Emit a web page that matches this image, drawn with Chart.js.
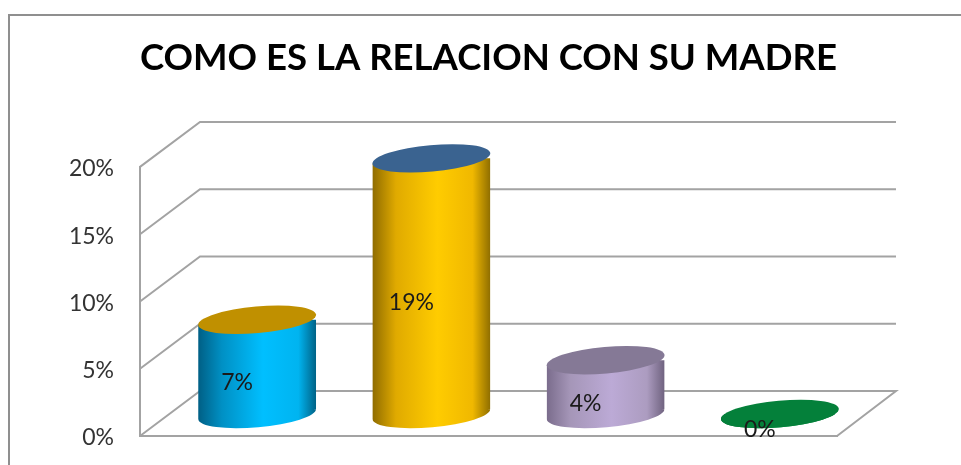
<!DOCTYPE html>
<html><head><meta charset="utf-8">
<style>html,body{margin:0;padding:0;background:#fff}canvas{display:block}</style>
<script src="https://cdn.jsdelivr.net/npm/chart.js@4"></script>
</head><body><canvas id="c" width="961" height="465"></canvas>
<script>
const titleText = "COMO ES LA RELACION CON SU MADRE";
const categories = ["1", "2", "3", "4"];
const values = [7, 19, 4, 0];
const capColors = ["#c09000", "#3a6390", "#857996", "#04803a"];
const bodyStops = [
  ["#005f85", "#0090c4", "#00bfff", "#00b4f0", "#006286"],
  ["#8f6c00", "#e0aa00", "#ffcc00", "#f0b800", "#8f6e00"],
  ["#7a6c8c", "#a596b8", "#bcaad6", "#ac9cc0", "#6f627f"],
  ["#03602c", "#04803a", "#06a04a", "#04803a", "#03602c"]
];
const stopAt = [0, 0.2, 0.55, 0.85, 1];
const depth = {x: 60, y: -45};
const mid = {x: 30, y: -22};
const gridColor = "#a3a3a3";

function fill(ctx) {
  if (ctx.dataIndex === undefined) return "transparent";
  const ch = ctx.chart, x = ch.scales.x;
  if (!x) return "transparent";
  const w = (x.width / categories.length) * 0.677;
  const c = x.getPixelForValue(ctx.dataIndex);
  if (!isFinite(c) || !isFinite(w)) return "transparent";
  const g = ch.ctx.createLinearGradient(c - w / 2, 0, c + w / 2, 0);
  bodyStops[ctx.dataIndex].forEach((s, i) => g.addColorStop(stopAt[i], s));
  return g;
}
function capPath(ctx, cx, cy, hw) {
  ctx.ellipse(cx, cy, hw * 1.003, hw * 0.225, -5.1 * Math.PI / 180, 0, Math.PI * 2, true);
}
const scene = {
  id: "scene",
  beforeDraw(ch) {
    const c = ch.ctx;
    c.save(); c.strokeStyle = "#8f8f8f"; c.lineWidth = 2;
    c.beginPath(); c.moveTo(9, 465); c.lineTo(9, 15); c.lineTo(961, 15); c.stroke();
    c.restore();
  },
  beforeDatasetsDraw(ch) {
    const c = ch.ctx, y = ch.scales.y, a = ch.chartArea;
    c.save(); c.strokeStyle = gridColor; c.lineWidth = 2; c.lineJoin = "miter";
    y.ticks.forEach(t => {
      const p = y.getPixelForValue(t.value);
      c.beginPath(); c.moveTo(a.left, p);
      c.lineTo(a.left + depth.x, p + depth.y);
      c.lineTo(a.right + depth.x - 1, p + depth.y);
      if (t.value === 0) c.lineTo(a.right, p);
      c.stroke();
    });
    c.restore();
  },
  beforeDatasetDraw(ch, args) {
    const c = ch.ctx, y = ch.scales.y, base = y.getPixelForValue(0);
    c.save(); c.translate(mid.x, mid.y);
    c.beginPath();
    args.meta.data.forEach(el => {
      const hw = el.width / 2, d = hw * 0.085;
      c.moveTo(el.x - hw, el.y + d);
      c.lineTo(el.x - hw, base + d);
      c.lineTo(el.x + hw, base - d);
      c.lineTo(el.x + hw, el.y - d);
      c.closePath();
      capPath(c, el.x, base, hw);
      c.closePath();
    });
    c.clip();
  },
  afterDatasetDraw(ch, args) {
    const c = ch.ctx, y = ch.scales.y, base = y.getPixelForValue(0);
    c.restore();
    c.save(); c.translate(mid.x, mid.y);
    args.meta.data.forEach((el, i) => {
      c.fillStyle = capColors[i];
      c.beginPath(); capPath(c, el.x, el.y, el.width / 2); c.fill();
    });
    c.restore();
    c.save();
    c.fillStyle = "#1a1a1a"; c.font = "23px Lato"; c.textAlign = "center"; c.textBaseline = "middle";
    args.meta.data.forEach((el, i) => {
      c.fillText(values[i] + "%", el.x + 10, (el.y + base) / 2 - 6);
    });
    c.restore();
  }
};
new Chart(document.getElementById("c"), {
  type: "bar",
  data: {labels: categories, datasets: [{
    data: values, base: -1.2, clip: false,
    backgroundColor: fill, borderWidth: 0,
    categoryPercentage: 1, barPercentage: 0.677
  }]},
  plugins: [scene],
  options: {
    responsive: false, animation: false,
    layout: {autoPadding: false, padding: {left: 0, right: 124, top: 0, bottom: 0}},
    plugins: {
      legend: {display: false}, tooltip: {enabled: false},
      title: {display: true, text: titleText, fullSize: false, color: "#000",
        font: {family: "Lato", size: 36.6, weight: "bold", lineHeight: 1.2},
        padding: {top: 36, bottom: 87}}
    },
    scales: {
      x: {grid: {display: false, drawTicks: false}, ticks: {display: false},
        border: {color: gridColor, width: 2},
        afterFit: s => { s.height = 29; }},
      y: {min: 0, max: 20,
        grid: {display: true, drawOnChartArea: false, drawTicks: true, tickLength: 26, color: "rgba(0,0,0,0)"},
        border: {color: gridColor, width: 2},
        ticks: {stepSize: 5, padding: 0, labelOffset: 2, color: "#333333", font: {family: "Lato", size: 23},
          callback: v => v + "%"},
        afterFit: s => { s.width = 140; }}
    }
  }
});
</script></body></html>
